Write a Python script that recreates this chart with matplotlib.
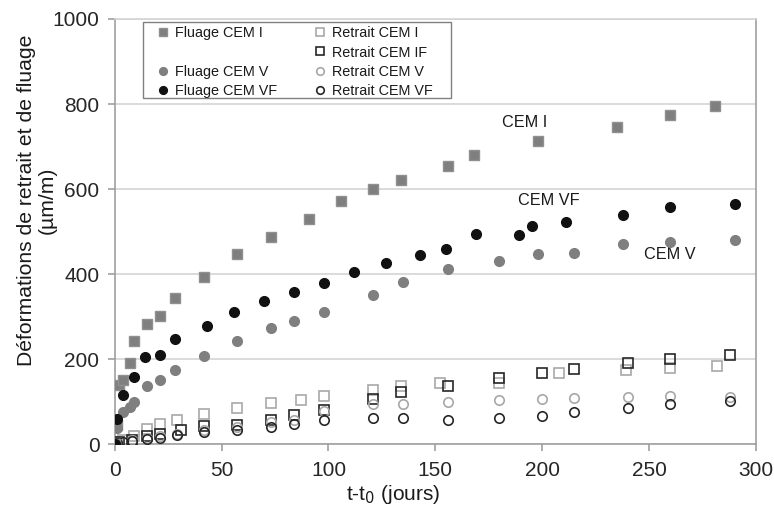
import matplotlib
matplotlib.use("Agg")
import matplotlib.pyplot as plt
from matplotlib.lines import Line2D
from matplotlib.patches import Rectangle

plt.rcParams['font.family'] = ['Liberation Sans', 'DejaVu Sans']

# Fluage (creep)
t_fl_cem1 = [0, 1, 2, 4, 7, 9, 15, 21, 28, 42, 57, 73, 91, 106, 121, 134, 156, 168, 198, 235, 260, 281]
fl_cem1 = [0, 45, 140, 151, 190, 242, 283, 301, 345, 394, 447, 488, 530, 571, 601, 622, 655, 681, 714, 747, 775, 795]

t_fl_cem5 = [0, 1, 4, 7, 9, 15, 21, 28, 42, 57, 73, 84, 98, 121, 135, 156, 180, 198, 215, 238, 260, 290]
fl_cem5 = [0, 38, 77, 87, 100, 136, 151, 174, 208, 243, 274, 290, 311, 351, 381, 413, 431, 447, 450, 470, 475, 481]

t_fl_cem5f = [0, 1, 4, 9, 14, 21, 28, 43, 56, 70, 84, 98, 112, 127, 143, 155, 169, 189, 195, 211, 238, 260, 290]
fl_cem5f = [0, 59, 117, 159, 205, 210, 248, 279, 310, 336, 358, 380, 404, 427, 446, 460, 494, 493, 514, 523, 540, 558, 564]

# Retrait (shrinkage)
t_re_cem1 = [0, 1, 4, 9, 15, 21, 29, 42, 57, 73, 87, 98, 121, 134, 152, 180, 208, 239, 260, 282]
re_cem1 = [0, 5, 10, 20, 35, 47, 58, 71, 85, 96, 105, 114, 128, 136, 143, 143, 167, 175, 179, 184]

t_re_cem1f = [0, 2, 8, 15, 21, 31, 42, 57, 73, 84, 98, 121, 134, 156, 180, 200, 215, 240, 260, 288]
re_cem1f = [0, 5, 10, 19, 25, 33, 43, 46, 57, 68, 80, 106, 124, 137, 155, 167, 176, 190, 200, 210]

t_re_cem5 = [0, 1, 4, 8, 15, 21, 29, 42, 57, 73, 84, 98, 121, 135, 156, 180, 200, 215, 240, 260, 288]
re_cem5 = [0, 3, 6, 10, 16, 20, 25, 34, 41, 53, 57, 78, 95, 95, 99, 104, 107, 108, 112, 114, 112]

t_re_cem5f = [0, 1, 4, 8, 15, 21, 29, 42, 57, 73, 84, 98, 121, 135, 156, 180, 200, 215, 240, 260, 288]
re_cem5f = [0, 2, 5, 8, 12, 16, 21, 28, 34, 41, 47, 56, 61, 61, 57, 61, 67, 77, 86, 95, 102]

fig = plt.figure(figsize=(7.74, 5.13), dpi=100)
ax = fig.add_axes([0.1482, 0.1339, 0.8285, 0.8291])

gray = '#7f7f7f'
light = '#a8a8a8'
dark = '#262626'

ax.plot(t_re_cem1, re_cem1, 's', ms=7.5, mfc='none', mec=light, mew=1.2, ls='none', label='Retrait CEM I', zorder=3)
ax.plot(t_re_cem1f, re_cem1f, 's', ms=7.5, mfc='none', mec=dark, mew=1.2, ls='none', label='Retrait CEM IF', zorder=3)
ax.plot(t_re_cem5, re_cem5, 'o', ms=6.8, mfc='none', mec=light, mew=1.2, ls='none', label='Retrait CEM V', zorder=3)
ax.plot(t_re_cem5f, re_cem5f, 'o', ms=6.8, mfc='none', mec=dark, mew=1.2, ls='none', label='Retrait CEM VF', zorder=3)
ax.plot(t_fl_cem1, fl_cem1, 's', ms=7.5, color=gray, mec='#909090', ls='none', label='Fluage CEM I', zorder=4)
ax.plot(t_fl_cem5, fl_cem5, 'o', ms=7, color=gray, mec=gray, ls='none', label='Fluage CEM V', zorder=4)
ax.plot(t_fl_cem5f, fl_cem5f, 'o', ms=7, color='#111111', mec='#111111', ls='none', label='Fluage CEM VF', zorder=4)

ax.set_xlim(0, 300)
ax.set_ylim(0, 1000)
ax.set_xticks(range(0, 301, 50))
ax.set_yticks(range(0, 1001, 200))
ax.grid(axis='y', color='#d4d4d4', lw=1.2)
ax.set_axisbelow(True)
for s in ['left', 'bottom', 'right']:
    ax.spines[s].set_color('#a0a0a0')
    ax.spines[s].set_linewidth(1.2)
ax.spines['top'].set_color('#d4d4d4')
ax.spines['top'].set_linewidth(1.2)
ax.tick_params(axis='both', colors='#a0a0a0', labelcolor='#262626', labelsize=15, length=5, width=1.2)
ax.tick_params(axis='x', pad=7)
ax.tick_params(axis='y', pad=6)

ax.text(181, 756, 'CEM I', fontsize=11.7, color='#1a1a1a', va='center')
ax.text(188.6, 573, 'CEM VF', fontsize=11.7, color='#1a1a1a', va='center')
ax.text(247.6, 447, 'CEM V', fontsize=11.7, color='#1a1a1a', va='center')

fig.text(393 / 774, 1 - 494 / 513, 't-t$_0$ (jours)', fontsize=15, ha='center', va='center', color='#1a1a1a')
fig.text(36.5 / 774, 1 - 200 / 513, 'Déformations de retrait et de fluage\n(µm/m)', fontsize=15.2,
         rotation=90, ha='center', va='center', multialignment='center', color='#1a1a1a', linespacing=1.1)

# legend box drawn separately (wider than the entries)
box = Rectangle((143 / 774, 1 - 98 / 513), 308 / 774, 76 / 513, transform=fig.transFigure,
                facecolor='white', edgecolor='#808080', lw=1.0, zorder=5)
fig.patches.append(box)

h = {l.get_label(): l for l in ax.get_lines()}
blank = Line2D([], [], ls='none', marker=None)
handles = [h['Fluage CEM I'], blank, h['Fluage CEM V'], h['Fluage CEM VF'],
           h['Retrait CEM I'], h['Retrait CEM IF'], h['Retrait CEM V'], h['Retrait CEM VF']]
labels = ['Fluage CEM I', '', 'Fluage CEM V', 'Fluage CEM VF',
          'Retrait CEM I', 'Retrait CEM IF', 'Retrait CEM V', 'Retrait CEM VF']
leg = fig.legend(handles, labels, ncol=2, loc='upper left', bbox_to_anchor=(143 / 774, 1 - 22 / 513),
                 bbox_transform=fig.transFigure, fontsize=10.4, frameon=False,
                 handlelength=2.2, handletextpad=-0.3, columnspacing=1.9, labelspacing=0.36,
                 borderpad=0.3, markerscale=0.8, borderaxespad=0)
leg.set_zorder(6)
for t in leg.get_texts():
    t.set_color('#1a1a1a')

fig.savefig('out.png', dpi=100)
